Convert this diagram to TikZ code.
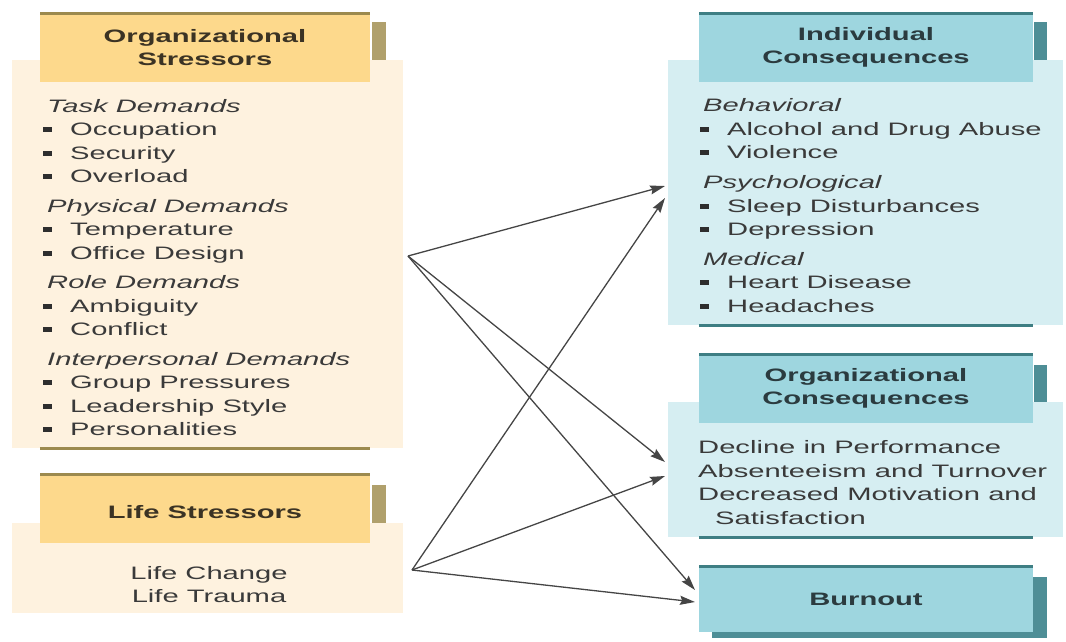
\documentclass[tikz,border=0pt]{standalone}
\usepackage{fontspec}
\setmainfont{Liberation Sans}[FakeStretch=1.62]
\usetikzlibrary{arrows.meta}

\definecolor{stressfill}{HTML}{FDD98C}
\definecolor{stressbg}{HTML}{FEF2DF}
\definecolor{stressline}{HTML}{9C8A4E}
\definecolor{stresstab}{HTML}{B0A06C}
\definecolor{stresstext}{HTML}{3B3324}
\definecolor{consfill}{HTML}{9ED6DF}
\definecolor{consbg}{HTML}{D6EEF2}
\definecolor{consline}{HTML}{3E7E83}
\definecolor{constab}{HTML}{4E8E96}
\definecolor{constext}{HTML}{2B3B3F}
\definecolor{textgray}{HTML}{3A3A3A}
\definecolor{bulgray}{HTML}{2E2E2E}
\definecolor{arrowgray}{HTML}{454545}

\newcommand{\listfont}{\fontsize{18}{23.5}\selectfont}
\newcommand{\listbullet}{{\color{bulgray}\rule[3.5pt]{9pt}{5pt}}\hspace{18pt}}

\begin{document}
\begin{tikzpicture}[x=1pt, y=-1pt,
    box/.style={rectangle, inner sep=0pt, outer sep=0pt},
    stresshead/.style={box, fill=stressfill, minimum width=330pt, minimum height=69pt, align=center, font=\listfont\bfseries, text=stresstext},
    stressbody/.style={box, fill=stressbg, minimum width=391pt},
    conshead/.style={box, fill=consfill, minimum width=334pt, minimum height=69pt, align=center, font=\listfont\bfseries, text=constext},
    consbody/.style={box, fill=consbg, minimum width=395pt},
    listtext/.style={inner sep=0pt, align=left, font=\listfont, text=textgray},
    stressrule/.style={stressline, line width=3pt},
    consrule/.style={consline, line width=3pt},
    arrow/.style={-{Stealth[length=15pt, width=9pt, inset=2pt]}, arrowgray, line width=1.3pt}
]
    \useasboundingbox (0,0) rectangle (1066,641);

    % tabs behind the headers
    \fill[stresstab] (372,22) rectangle (386,60);
    \fill[stresstab] (372,485) rectangle (386,523);
    \fill[constab] (1034,22) rectangle (1047,60);
    \fill[constab] (1034,365) rectangle (1047,402);
    \fill[constab] (712,577) rectangle (1047,638);

    % bodies
    \node[stressbody, minimum height=388pt] (orgbody) at (207.5,254) {};
    \node[stressbody, minimum height=90pt] (lifebody) at (207.5,568) {};
    \node[consbody, minimum height=265pt] (indbody) at (865.5,192.5) {};
    \node[consbody, minimum height=135pt] (consbody) at (865.5,469.5) {};

    % headers
    \node[stresshead] (orghead) at (205,47.5) {Organizational\\Stressors};
    \node[stresshead] (lifehead) at (205,508.5) {\raisebox{-3pt}[\height][0pt]{Life Stressors}};
    \node[conshead] (indhead) at (866,47.5) {Individual\\Consequences};
    \node[conshead] (conshead) at (866,388.5) {Organizational\\Consequences};
    \node[conshead, minimum height=66pt] (burnout) at (866,599) {Burnout};

    % rules
    \draw[stressrule] (orghead.north west) -- (orghead.north east);
    \draw[stressrule] (lifehead.north west) -- (lifehead.north east);
    \draw[stressrule] (orghead.west |- orgbody.south) -- (orghead.east |- orgbody.south);
    \draw[consrule] (indhead.north west) -- (indhead.north east);
    \draw[consrule] (conshead.north west) -- (conshead.north east);
    \draw[consrule] (burnout.north west) -- (burnout.north east);
    \draw[consrule] (indhead.west |- indbody.south) -- (indhead.east |- indbody.south);
    \draw[consrule] (conshead.west |- consbody.south) -- (conshead.east |- consbody.south);

    % lists
    \node[listtext, anchor=north west] (orglist) at (43,99) {
        \hspace*{4pt}\textit{Task Demands}\\
        \listbullet Occupation\\
        \listbullet Security\\
        \listbullet Overload\\[6pt]
        \hspace*{4pt}\textit{Physical Demands}\\
        \listbullet Temperature\\
        \listbullet Office Design\\[6pt]
        \hspace*{4pt}\textit{Role Demands}\\
        \listbullet Ambiguity\\
        \listbullet Conflict\\[6pt]
        \hspace*{4pt}\textit{Interpersonal Demands}\\
        \listbullet Group Pressures\\
        \listbullet Leadership Style\\
        \listbullet Personalities
    };
    \node[listtext, align=center, anchor=north] (lifelist) at (209,566) {Life Change\\Life Trauma};
    \node[listtext, anchor=north west] (indlist) at (700,98.5) {
        \hspace*{3pt}\textit{Behavioral}\\
        \listbullet Alcohol and Drug Abuse\\
        \listbullet Violence\\[6.5pt]
        \hspace*{3pt}\textit{Psychological}\\
        \listbullet Sleep Disturbances\\
        \listbullet Depression\\[6pt]
        \hspace*{3pt}\textit{Medical}\\
        \listbullet Heart Disease\\
        \listbullet Headaches
    };
    \node[listtext, anchor=north west] (conslist) at (698,440.5) {
        Decline in Performance\\
        Absenteeism and Turnover\\
        Decreased Motivation and\\
        \hspace*{17pt}Satisfaction
    };

    % stressors lead to consequences
    \draw[arrow] ([xshift=5pt, yshift=-2pt]orgbody.east) -- ([xshift=-3pt, yshift=6.5pt]indbody.west);
    \draw[arrow] ([xshift=5pt, yshift=-2pt]orgbody.east) -- ([xshift=-3pt, yshift=7.5pt]consbody.west);
    \draw[arrow] ([xshift=5pt, yshift=-2pt]orgbody.east) -- ([xshift=-4pt, yshift=9pt]burnout.west);
    \draw[arrow] ([xshift=9pt, yshift=-2pt]lifebody.east) -- ([xshift=-3pt, yshift=-5.5pt]indbody.west);
    \draw[arrow] ([xshift=9pt, yshift=-2pt]lifebody.east) -- ([xshift=-3pt, yshift=-6.5pt]consbody.west);
    \draw[arrow] ([xshift=9pt, yshift=-2pt]lifebody.east) -- ([xshift=-4pt, yshift=-3pt]burnout.west);
\end{tikzpicture}
\end{document}
